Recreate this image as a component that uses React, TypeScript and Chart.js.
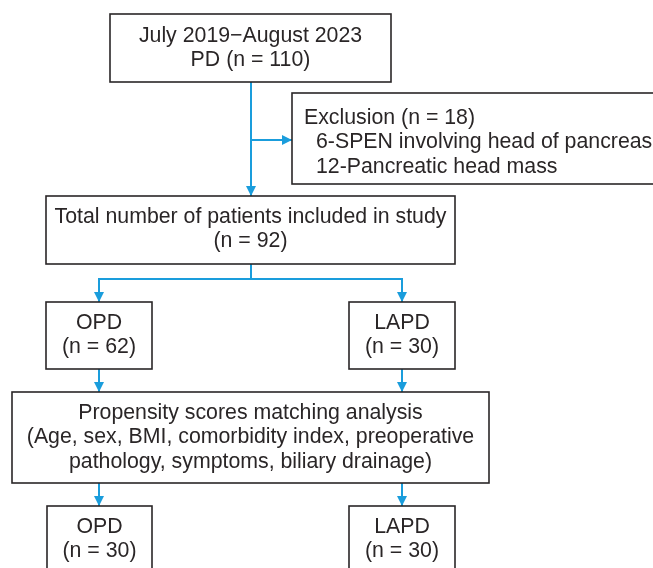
import React, { useEffect, useRef } from "react";
import { Chart, registerables } from "chart.js";

Chart.register(...registerables);

// ---- content (text of each node) ----
const nodeIds = ["start", "exclusion", "total", "opd1", "lapd1", "psm", "opd2", "lapd2"];
const nodeLabels: string[][] = [
  ["July 2019\u2212August 2023", "PD (n = 110)"],
  ["Exclusion (n = 18)", "6-SPEN involving head of pancreas", "12-Pancreatic head mass"],
  ["Total number of patients included in study", "(n = 92)"],
  ["OPD", "(n = 62)"],
  ["LAPD", "(n = 30)"],
  ["Propensity scores matching analysis", "(Age, sex, BMI, comorbidity index, preoperative", "pathology, symptoms, biliary drainage)"],
  ["OPD", "(n = 30)"],
  ["LAPD", "(n = 30)"],
];
const patientCounts = [110, 18, 92, 62, 30, 92, 30, 30];

// ---- layout (in scale units) ----
// [x0, x1, y0, y1, firstBaseline, align]
const boxLayout: [number, number, number, number, number, string][] = [
  [110, 391, 14, 82, 42, "center"],
  [292, 665, 93, 184, 124, "left"],
  [46, 455, 196, 264, 223, "center"],
  [46, 152, 302, 369, 329, "center"],
  [349, 455, 302, 369, 329, "center"],
  [12, 489, 392, 483, 419, "center"],
  [47, 152, 506, 580, 533, "center"],
  [349, 455, 506, 580, 533, "center"],
];
const textIndent = [0, 12, 12];
const lineGap = 24.3;

// connectors: polylines; last segment gets an arrowhead
const connectors: { pts: [number, number][]; arrow: boolean }[] = [
  { pts: [[251, 82], [251, 196]], arrow: true },
  { pts: [[251, 140], [292, 140]], arrow: true },
  { pts: [[251, 264], [251, 279]], arrow: false },
  { pts: [[251, 279], [99, 279], [99, 302]], arrow: true },
  { pts: [[251, 279], [402, 279], [402, 302]], arrow: true },
  { pts: [[99, 369], [99, 392]], arrow: true },
  { pts: [[402, 369], [402, 392]], arrow: true },
  { pts: [[99, 483], [99, 506]], arrow: true },
  { pts: [[402, 483], [402, 506]], arrow: true },
];

const BLUE = "#1a9ddc";
const INK = "#2a2627";
const FONT = "21.3px 'Liberation Sans', Arial, sans-serif";

const flowPlugin = {
  id: "flow",
  afterDatasetsDraw(chart: any) {
    const { ctx, scales } = chart;
    const X = (v: number) => scales.x.getPixelForValue(v);
    const Y = (v: number) => scales.y.getPixelForValue(v);
    ctx.save();
    // arrowheads
    ctx.fillStyle = BLUE;
    connectors.forEach((c) => {
      if (!c.arrow) return;
      const n = c.pts.length;
      const [ax, ay] = c.pts[n - 2];
      const [bx, by] = c.pts[n - 1];
      const px = X(bx), py = Y(by);
      const ang = Math.atan2(Y(by) - Y(ay), X(bx) - X(ax));
      const L = 10, W = 5;
      ctx.beginPath();
      ctx.moveTo(px, py);
      ctx.lineTo(px - L * Math.cos(ang) + W * Math.sin(ang), py - L * Math.sin(ang) - W * Math.cos(ang));
      ctx.lineTo(px - L * Math.cos(ang) - W * Math.sin(ang), py - L * Math.sin(ang) + W * Math.cos(ang));
      ctx.closePath();
      ctx.fill();
    });
    // boxes
    ctx.strokeStyle = INK;
    ctx.lineWidth = 1.6;
    ctx.fillStyle = INK;
    ctx.font = FONT;
    ctx.textBaseline = "alphabetic";
    boxLayout.forEach((b, i) => {
      const [x0, x1, y0, y1, base, align] = b;
      ctx.strokeRect(X(x0), Y(y0), X(x1) - X(x0), Y(y1) - Y(y0));
      const lines = nodeLabels[i];
      lines.forEach((t, j) => {
        const y = Y(base + j * lineGap);
        if (align === "left") {
          ctx.textAlign = "left";
          ctx.fillText(t, X(x0 + 12 + (textIndent[j] || 0)), y);
        } else {
          ctx.textAlign = "center";
          ctx.fillText(t, X((x0 + x1) / 2), y);
        }
      });
    });
    ctx.restore();
  },
};

export default function App() {
  const ref = useRef<HTMLCanvasElement>(null);
  useEffect(() => {
    document.body.style.margin = "0";
    const chart = new Chart(ref.current!, {
      type: "scatter",
      data: {
        datasets: connectors.map((c, i) => ({
          label: "link" + i,
          data: c.pts.map(([x, y]) => ({ x, y })),
          showLine: true,
          borderColor: BLUE,
          borderWidth: 2,
          pointRadius: 0,
          fill: false,
        })),
      },
      options: {
        animation: false,
        responsive: false,
        layout: { padding: 0 },
        plugins: { legend: { display: false }, tooltip: { enabled: false } },
        scales: {
          x: { type: "linear", min: 0, max: 653, display: false },
          y: { type: "linear", min: 0, max: 568, reverse: true, display: false },
        },
      },
      plugins: [flowPlugin],
    });
    return () => chart.destroy();
  }, []);
  return (
    <div style={{ position: "absolute", left: 0, top: 0, width: 653, height: 568, background: "#fff" }}>
      <canvas ref={ref} width={653} height={568} data-ids={nodeIds.join(",")} data-counts={patientCounts.join(",")} />
    </div>
  );
}
